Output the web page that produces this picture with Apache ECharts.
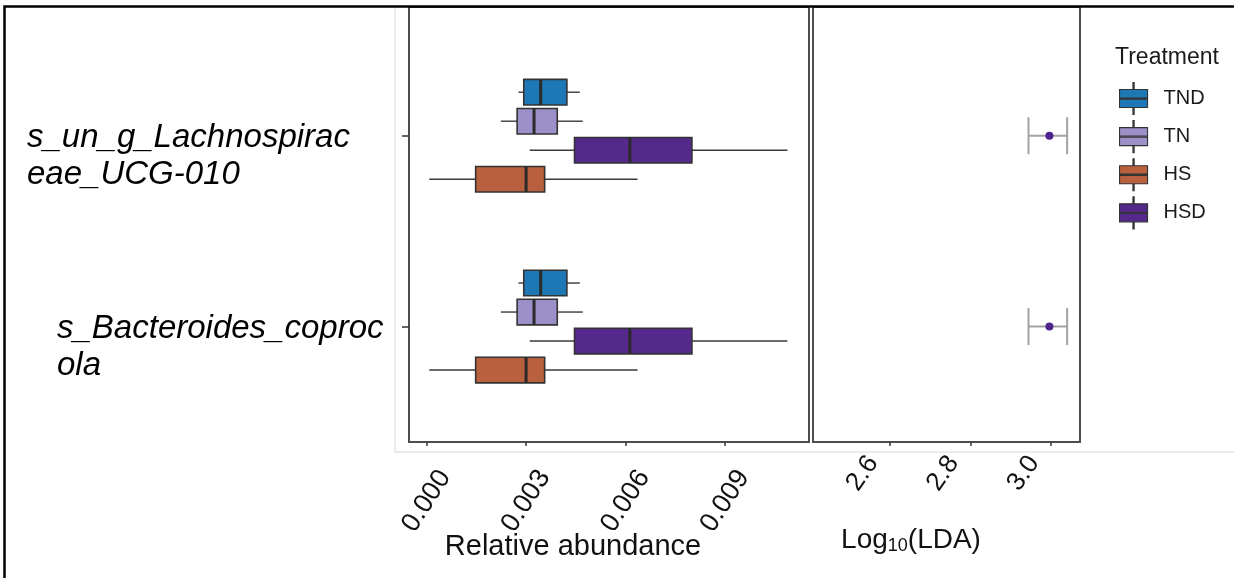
<!DOCTYPE html>
<html>
<head>
<meta charset="utf-8">
<script src="https://cdn.jsdelivr.net/npm/echarts@6/dist/echarts.min.js"></script>
<style>
  html, body { margin: 0; padding: 0; background: #fff; }
  #chart { width: 1234px; height: 578px; }
</style>
</head>
<body>
<div id="chart"></div>
<script>
// ---------------- data ----------------
const categories = ['s_un_g_Lachnospiraceae_UCG-010', 's_Bacteroides_coprocola'];
const yTickLabels = [['s_un_g_Lachnospirac', 'eae_UCG-010'], ['s_Bacteroides_coproc', 'ola']];
const treatments = ['TND', 'TN', 'HS', 'HSD'];
// box stats per category: [whisker low, Q1, median, Q3, whisker high]
const boxTND = [[0.00277, 0.00293, 0.00344, 0.00423, 0.00462], [0.00277, 0.00293, 0.00344, 0.00423, 0.00462]];
const boxTN  = [[0.00224, 0.00273, 0.00324, 0.00394, 0.00471], [0.00224, 0.00273, 0.00324, 0.00394, 0.00471]];
const boxHS  = [[0.00008, 0.00148, 0.00300, 0.00356, 0.00636], [0.00008, 0.00148, 0.00300, 0.00356, 0.00636]];
const boxHSD = [[0.00311, 0.00446, 0.00613, 0.00800, 0.01088], [0.00311, 0.00446, 0.00613, 0.00800, 0.01088]];
// LDA per category
const ldaMean = [2.996, 2.996];
const ldaLow  = [2.944, 2.944];
const ldaHigh = [3.040, 3.040];
const abundanceTicks = [0, 0.003, 0.006, 0.009];
const ldaTicks = [2.6, 2.8, 3.0];

// ---------------- styles ----------------
const colors = { TND: '#1f78b6', TN: '#9d90c8', HS: '#b9613f', HSD: '#55288c' };
const slotOf = { TND: -1.5, TN: -0.5, HSD: 0.5, HS: 1.5 };
const SLOT = 0.152, HALF = 0.067, CAP = 0.097;
const boxes = { TND: boxTND, TN: boxTN, HS: boxHS, HSD: boxHSD };
const FONT = "'Liberation Sans', Arial, sans-serif";

function boxRender(slot) {
  return function (params, api) {
    const cat = api.value(0);
    const wlo = api.value(1), q1 = api.value(2), med = api.value(3), q3 = api.value(4), whi = api.value(5);
    const yc = cat + slot * SLOT;
    const a = api.coord([q1, yc - HALF]);
    const b = api.coord([q3, yc + HALF]);
    const pc = api.coord([wlo, yc]);
    const pq1 = api.coord([q1, yc]);
    const pq3 = api.coord([q3, yc]);
    const pw = api.coord([whi, yc]);
    const m1 = api.coord([med, yc - HALF]);
    const m2 = api.coord([med, yc + HALF]);
    const wStyle = { stroke: '#3a3a3a', lineWidth: 1.4 };
    return {
      type: 'group',
      children: [
        { type: 'line', shape: { x1: pc[0], y1: pc[1], x2: pq1[0], y2: pq1[1] }, style: wStyle },
        { type: 'line', shape: { x1: pq3[0], y1: pq3[1], x2: pw[0], y2: pw[1] }, style: wStyle },
        { type: 'rect', shape: { x: Math.min(a[0], b[0]), y: Math.min(a[1], b[1]), width: Math.abs(b[0] - a[0]), height: Math.abs(b[1] - a[1]) },
          style: { fill: api.visual('color'), stroke: '#333333', lineWidth: 1.6 } },
        { type: 'line', shape: { x1: m1[0], y1: m1[1], x2: m2[0], y2: m2[1] }, style: { stroke: '#2a2a2a', lineWidth: 3 } }
      ]
    };
  };
}

function errRender(params, api) {
  const cat = api.value(0), mean = api.value(1), lo = api.value(2), hi = api.value(3);
  const pl = api.coord([lo, cat]), ph = api.coord([hi, cat]), pm = api.coord([mean, cat]);
  const lt = api.coord([lo, cat - CAP]), lb = api.coord([lo, cat + CAP]);
  const ht = api.coord([hi, cat - CAP]), hb = api.coord([hi, cat + CAP]);
  const st = { stroke: '#a3a3a3', lineWidth: 2 };
  return {
    type: 'group',
    children: [
      { type: 'line', shape: { x1: pl[0], y1: pl[1], x2: ph[0], y2: ph[1] }, style: st },
      { type: 'line', shape: { x1: lt[0], y1: lt[1], x2: lb[0], y2: lb[1] }, style: st },
      { type: 'line', shape: { x1: ht[0], y1: ht[1], x2: hb[0], y2: hb[1] }, style: st },
      { type: 'circle', shape: { cx: pm[0], cy: pm[1], r: 4 }, style: { fill: '#4f2390' } }
    ]
  };
}

const boxSeries = treatments.map(t => ({
  name: t,
  type: 'custom',
  xAxisIndex: 0,
  yAxisIndex: 0,
  itemStyle: { color: colors[t] },
  encode: { x: [1, 2, 3, 4, 5], y: 0 },
  renderItem: boxRender(slotOf[t]),
  data: categories.map((c, i) => [i + 1].concat(boxes[t][i]))
}));

const errSeries = {
  name: 'LDA',
  type: 'custom',
  xAxisIndex: 1,
  yAxisIndex: 1,
  encode: { x: [1, 2, 3], y: 0 },
  renderItem: errRender,
  data: categories.map((c, i) => [i + 1, ldaMean[i], ldaLow[i], ldaHigh[i]])
};

const legendIcon = 'path://M13.4,0 h1.2 v7 h-1.2 z M0,7 h28 v18 h-28 z M13.4,25 h1.2 v7 h-1.2 z M0,15.4 h28 v1.2 h-28 z';

const yRange = { min: 0.3255, max: 2.605 };

const option = {
  animation: false,
  backgroundColor: '#ffffff',
  textStyle: { fontFamily: FONT },
  title: {
    text: 'Treatment', left: 1115, top: 46, padding: 0,
    textStyle: { fontSize: 23, fontWeight: 'normal', color: '#1a1a1a', fontFamily: FONT }
  },
  legend: {
    orient: 'vertical', left: 1119, top: 82, padding: 0,
    itemWidth: 28, itemHeight: 32, itemGap: 5,
    selectedMode: false,
    data: treatments.map(t => ({ name: t, icon: legendIcon })),
    itemStyle: { borderColor: '#333333', borderWidth: 1.1 },
    textStyle: { fontSize: 20, color: '#1a1a1a', fontFamily: FONT, padding: [0, 0, 0, 11] }
  },
  grid: [
    { left: 409, top: 7, width: 400, height: 435, show: true, borderColor: '#4d4d4d', borderWidth: 2, backgroundColor: 'transparent', containLabel: false, outerBoundsMode: 'none' },
    { left: 813, top: 7, width: 267, height: 435, show: true, borderColor: '#4d4d4d', borderWidth: 2, backgroundColor: 'transparent', containLabel: false, outerBoundsMode: 'none' }
  ],
  xAxis: [
    {
      type: 'value', gridIndex: 0, min: -0.00053, max: 0.01153,
      splitLine: { show: false },
      axisLine: { show: false, onZero: false },
      axisTick: { show: true, customValues: abundanceTicks, length: 4, lineStyle: { color: '#333', width: 1.5 } },
      axisLabel: {
        customValues: abundanceTicks, rotate: 57, margin: 59, align: 'center', verticalAlign: 'middle',
        fontSize: 27, color: '#111', fontFamily: FONT,
        formatter: v => v.toFixed(3)
      },
      name: 'Relative abundance', nameLocation: 'middle', nameGap: 105, nameMoveOverlap: false,
      nameTextStyle: { fontSize: 29, color: '#111', fontFamily: FONT, align: 'center', verticalAlign: 'middle', padding: [0, 72, 0, 0] }
    },
    {
      type: 'value', gridIndex: 1, min: 2.4087, max: 3.072,
      splitLine: { show: false },
      axisLine: { show: false, onZero: false },
      axisTick: { show: true, customValues: ldaTicks, length: 4, lineStyle: { color: '#333', width: 1.5 } },
      axisLabel: {
        customValues: ldaTicks, rotate: 55, margin: -8, align: 'center', verticalAlign: 'middle',
        padding: [0, 96, 0, 0],
        fontSize: 26, color: '#111', fontFamily: FONT,
        formatter: v => v.toFixed(1)
      },
      name: '{a|Log}{b|10}{a|(LDA)}', nameLocation: 'middle', nameGap: 98, nameMoveOverlap: false,
      nameTextStyle: {
        align: 'center', verticalAlign: 'middle', padding: [0, 71, 0, 0],
        rich: {
          a: { fontSize: 28, color: '#111', fontFamily: FONT, lineHeight: 30 },
          b: { fontSize: 18, color: '#111', fontFamily: FONT, lineHeight: 14, verticalAlign: 'bottom' }
        }
      }
    }
  ],
  yAxis: [
    {
      type: 'value', gridIndex: 0, inverse: true, min: yRange.min, max: yRange.max,
      splitLine: { show: false },
      axisLine: { show: false, onZero: false },
      axisTick: { show: true, customValues: [1, 2], length: 7, lineStyle: { color: '#333', width: 1.5 } },
      axisLabel: {
        customValues: [1, 2], margin: 382, align: 'left', verticalAlign: 'middle',
        padding: [41, 0, 0, 0],
        formatter: v => {
          const i = Math.round(v) - 1;
          const lines = yTickLabels[i] || [];
          const st = i === 0 ? 'a' : 'b';
          return lines.map(l => '{' + st + '|' + l + '}').join('\n');
        },
        rich: {
          a: { fontSize: 33, fontStyle: 'italic', color: '#000', fontFamily: FONT, lineHeight: 37 },
          b: { fontSize: 33, fontStyle: 'italic', color: '#000', fontFamily: FONT, lineHeight: 37, padding: [0, 0, 0, 30] }
        }
      }
    },
    {
      type: 'value', gridIndex: 1, inverse: true, min: yRange.min, max: yRange.max,
      splitLine: { show: false },
      axisLine: { show: false, onZero: false },
      axisTick: { show: false },
      axisLabel: { show: false }
    }
  ],
  graphic: [
    { type: 'line', shape: { x1: 395, y1: 8, x2: 395, y2: 452 }, style: { stroke: '#d6d6d6', lineWidth: 1 }, z: 0, silent: true },
    { type: 'line', shape: { x1: 395, y1: 452, x2: 1234, y2: 452 }, style: { stroke: '#d6d6d6', lineWidth: 1 }, z: 0, silent: true },
    { type: 'rect', shape: { x: 4.5, y: 6.5, width: 1300, height: 700 }, style: { fill: 'none', stroke: '#000', lineWidth: 2.5 }, z: 100, silent: true }
  ],
  series: boxSeries.concat([errSeries])
};

const chart = echarts.init(document.getElementById('chart'), null, { renderer: 'canvas' });
chart.setOption(option);
</script>
</body>
</html>
